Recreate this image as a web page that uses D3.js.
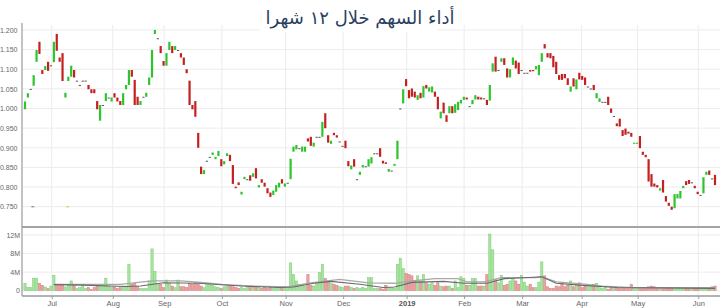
<!DOCTYPE html>
<html>
<head>
<meta charset="utf-8">
<script src="https://cdn.jsdelivr.net/npm/d3@7"></script>
<style>
body{margin:0;background:#fff}
svg{display:block;font-family:"Liberation Sans",Arial,sans-serif}
</style>
</head>
<body>
<div id="chart"></div>
<script>
const titleText = "أداء السهم خلال ١٢ شهرا"

const opens = [
0.998,1.028,1.050,1.058,1.119,1.170,1.098,1.098,1.119,1.110,
1.118,1.190,1.130,1.141,1.028,1.070,1.081,1.098,1.071,1.060,
1.071,1.071,1.060,1.049,1.049,1.019,0.969,1.009,1.019,1.028,
1.018,1.039,1.028,1.019,1.009,1.049,1.060,1.098,1.073,1.030,
1.009,1.030,1.030,1.060,1.079,1.190,1.179,1.159,1.121,1.109,
1.149,1.159,1.149,1.149,1.141,1.130,1.100,1.071,1.009,1.019,
0.938,0.852,0.833,0.867,0.877,0.882,0.871,0.879,0.871,0.858,
0.879,0.882,0.856,0.801,0.812,0.781,0.820,0.820,0.830,0.826,
0.848,0.799,0.820,0.811,0.797,0.786,0.780,0.788,0.799,0.820,
0.801,0.811,0.820,0.890,0.896,0.899,0.890,0.890,0.924,0.928,
0.903,0.928,0.928,0.928,0.988,0.932,0.910,0.938,0.932,0.916,
0.905,0.918,0.866,0.845,0.871,0.820,0.831,0.850,0.853,0.852,
0.860,0.886,0.886,0.899,0.867,0.863,0.839,0.842,0.854,0.871,
1.000,1.013,1.075,1.047,1.051,1.043,1.022,1.040,1.028,1.060,
1.043,1.041,1.043,1.030,0.975,1.015,0.983,0.988,1.006,0.989,
0.996,1.013,1.022,1.028,1.006,1.011,1.023,1.030,1.028,1.026,
1.022,1.020,1.094,1.132,1.098,1.119,1.128,1.102,1.079,1.111,
1.122,1.117,1.098,1.091,1.091,1.098,1.098,1.100,1.085,1.119,
1.164,1.141,1.141,1.134,1.119,1.085,1.088,1.088,1.077,1.043,
1.077,1.049,1.091,1.083,1.079,1.056,1.051,1.060,1.026,1.017,
1.017,1.017,1.030,1.000,0.981,0.962,0.974,0.945,0.949,0.941,
0.938,0.910,0.910,0.930,0.890,0.882,0.871,0.833,0.809,0.805,
0.791,0.818,0.777,0.760,0.750,0.746,0.771,0.771,0.797,0.815,
0.818,0.812,0.803,0.788,0.780,0.784,0.831,0.842,0.822,0.831]

const closes = [
1.018,1.039,1.050,1.085,1.149,1.139,1.088,1.108,1.096,1.110,
1.170,1.147,1.119,1.070,1.040,1.081,1.109,1.079,1.071,1.060,
1.071,1.071,1.049,1.039,1.039,0.998,1.009,1.009,1.039,1.028,
1.028,1.028,1.018,1.009,1.039,1.060,1.098,1.081,1.009,1.009,
1.019,1.030,1.040,1.079,1.149,1.200,1.179,1.141,1.109,1.141,
1.170,1.141,1.159,1.149,1.130,1.111,1.090,1.009,0.998,0.979,
0.900,0.833,0.843,0.867,0.877,0.888,0.877,0.892,0.853,0.866,
0.886,0.866,0.808,0.797,0.805,0.788,0.826,0.820,0.816,0.835,
0.822,0.805,0.811,0.801,0.784,0.775,0.791,0.805,0.811,0.809,
0.809,0.811,0.872,0.903,0.907,0.899,0.903,0.903,0.916,0.905,
0.913,0.928,0.928,0.966,0.950,0.913,0.918,0.932,0.926,0.916,
0.905,0.899,0.853,0.855,0.852,0.820,0.839,0.856,0.853,0.871,
0.876,0.886,0.886,0.877,0.860,0.859,0.846,0.842,0.859,0.918,
1.000,1.049,1.057,1.026,1.030,1.028,1.034,1.026,1.057,1.051,
1.054,1.056,1.030,0.998,0.992,0.988,0.966,1.006,0.988,1.011,
1.017,1.022,1.030,1.023,1.006,1.022,1.034,1.023,1.023,1.026,
1.009,1.060,1.115,1.094,1.098,1.128,1.111,1.079,1.100,1.130,
1.102,1.088,1.098,1.091,1.091,1.094,1.095,1.108,1.111,1.141,
1.153,1.130,1.128,1.105,1.088,1.073,1.073,1.077,1.060,1.056,
1.056,1.074,1.074,1.073,1.060,1.056,1.051,1.047,1.039,1.026,
1.017,1.017,1.009,0.989,0.981,0.955,0.954,0.930,0.933,0.936,
0.928,0.913,0.913,0.899,0.882,0.876,0.814,0.801,0.801,0.799,
0.797,0.786,0.763,0.752,0.742,0.782,0.782,0.790,0.803,0.805,
0.808,0.812,0.797,0.782,0.780,0.825,0.839,0.831,0.822,0.805]

// volume in millions
const volumes = [
1.6,0.65,0.65,2.7,2.7,1.6,1.15,0.8,0.45,1.0,
3.3,1.4,1.4,1.4,0.8,1.15,2.1,1.15,0.45,0.65,
1.15,0.45,0.65,0.3,0.65,1.0,1.0,1.0,2.7,1.0,
0.65,0.8,0.45,0.65,1.0,1.0,5.7,1.4,1.6,1.0,
0.45,0.45,0.45,2.1,9.0,4.2,1.6,1.4,0.65,2.3,
1.6,1.0,0.65,2.3,0.85,0.85,0.65,1.6,1.4,1.7,
1.4,1.0,0.65,1.6,1.6,1.15,0.85,0.65,0.45,0.85,
1.0,1.0,0.85,0.65,0.45,0.65,0.45,0.85,0.65,0.65,
0.85,0.65,0.45,0.65,0.45,0.65,0.45,0.85,0.85,0.65,
0.85,0.65,6.0,3.5,2.1,1.4,1.15,1.0,3.5,1.15,
1.0,1.7,3.9,5.7,2.6,2.1,1.6,1.4,1.15,0.85,
0.65,1.0,1.0,0.65,0.45,0.65,0.45,0.65,0.45,2.8,
2.8,0.45,0.45,0.45,0.3,1.15,0.65,0.65,0.45,5.7,
7.0,4.75,3.7,3.5,3.2,2.1,3.2,2.1,3.5,1.7,
1.4,1.7,1.15,1.7,1.0,0.85,1.0,1.0,0.45,2.1,
0.65,3.0,2.6,1.15,1.15,2.6,2.6,1.0,1.0,1.0,
3.5,12.2,8.8,2.45,1.7,3.3,1.15,1.4,2.1,2.6,
2.1,1.4,3.3,1.85,1.0,1.4,0.65,0.65,1.85,6.2,
3.2,0.85,0.45,0.45,1.0,0.85,1.7,0.85,1.15,2.1,
0.85,1.6,1.7,0.65,1.0,0.85,1.15,1.4,1.6,0.65,
0.45,0.85,0.3,0.65,0.45,0.65,0.45,0.65,0.45,0.45,
1.4,0.45,0.45,0.45,0.65,0.65,0.85,1.0,0.85,0.65,
0.65,0.45,0.45,0.45,0.45,0.45,0.45,0.65,0.45,0.65,
0.45,0.65,0.45,0.45,0.45,0.45,0.45,0.45,0.85,1.0]

// two volume averages, read at a few trading-day positions
const maSlowIdx = [10,33,44,54,63,68,79,91,99,109,119,128,134,142,150,153,159,165,177,179,184,194,200,211,239]
const maSlow = [1.37,1.37,2.1,2.1,1.7,1.37,1.0,0.8,1.7,2.45,1.7,1.6,2.1,2.6,2.6,1.9,1.9,2.8,2.8,3.0,1.9,1.4,1.0,0.65,0.65]
const maFastIdx = [10,20,35,40,48,60,75,88,93,100,106,116,124,128,134,145,152,160,166,176,179,184,192,205,239]
const maFast = [1.3,1.2,0.9,1.0,1.7,1.6,1.0,0.7,0.8,1.6,2.0,1.4,0.7,0.8,1.8,2.0,1.6,1.6,2.6,2.9,3.0,1.6,1.2,0.7,0.5]

// month ticks, as trading-day positions
const tickIdx = [9.25,30.4,48.2,68.2,90.3,110.2,132.2,152.1,172.2,192.8,212.2,233.2]
const tickLabels = ["Jul","Aug","Sep","Oct","Nov","Dec","2019","Feb","Mar","Apr","May","Jun"]
const priceTicks = [0.75,0.8,0.85,0.9,0.95,1.0,1.05,1.1,1.15,1.2]
const volTicks = [0,4,8,12]

// small event markers near the bottom of the price panel
const markerIdx = [2.7,14.8]
const markerVal = [0.75,0.75]

drawChart("#chart")

function drawChart(id){
    const canvas = createCanvas()
    const svg = d3.select(id).append("svg").attr("width",canvas.width).attr("height",canvas.height)
    const sc = addScales(canvas)
    addGrid(svg,sc,canvas)
    addCandles(svg,sc)
    addMarkers(svg,sc)
    addVolume(svg,sc)
    addAverages(svg,sc)
    addAxes(svg,sc,canvas)
    addTitle(svg,canvas)
}

function createCanvas(){
    return {width:720,height:308,left:22,right:720,priceTop:25,priceBottom:226,volTop:228,volBottom:296}
}

function addScales(canvas){
    const x = d3.scaleLinear().domain([0,opens.length-1]).range([25,715])
    const y = d3.scaleLinear().domain([0.7008,1.2127]).range([canvas.priceBottom,canvas.priceTop])
    const yv = d3.scaleLinear().domain([-1.14,13.5]).range([canvas.volBottom,canvas.volTop])
    return {x,y,yv}
}

function addGrid(svg,sc,canvas){
    const g = svg.append("g").attr("stroke","#ececec").attr("stroke-width",1)
    priceTicks.forEach(t => g.append("line").attr("x1",canvas.left).attr("x2",canvas.right)
        .attr("y1",sc.y(t)).attr("y2",sc.y(t)))
    volTicks.forEach(t => g.append("line").attr("x1",canvas.left).attr("x2",canvas.right)
        .attr("y1",sc.yv(t)).attr("y2",sc.yv(t)))
    tickIdx.forEach(t => {
        g.append("line").attr("x1",sc.x(t)).attr("x2",sc.x(t)).attr("y1",canvas.priceTop).attr("y2",canvas.priceBottom)
        g.append("line").attr("x1",sc.x(t)).attr("x2",sc.x(t)).attr("y1",canvas.volTop).attr("y2",canvas.volBottom)
    })
}

function candleColor(i){
    if(closes[i] > opens[i]) return "#2dc52d"
    if(closes[i] < opens[i]) return "#c42020"
    return "#555"
}

function addCandles(svg,sc){
    const w = 2.2
    svg.append("g").selectAll("rect").data(opens).enter().append("rect")
     .attr("x",(d,i) => sc.x(i) - w/2)
     .attr("y",(d,i) => sc.y(Math.max(d,closes[i])))
     .attr("width",w)
     .attr("height",(d,i) => Math.max(1,Math.abs(sc.y(d) - sc.y(closes[i]))))
     .attr("fill",(d,i) => candleColor(i))
}

function addMarkers(svg,sc){
    svg.append("g").selectAll("rect").data(markerIdx).enter().append("rect")
     .attr("x",d => sc.x(d) - 1.5).attr("y",(d,i) => sc.y(markerVal[i]) - 0.7)
     .attr("width",3).attr("height",1.4)
     .attr("fill",(d,i) => i === 0 ? "#999" : "#e8d25a")
}

function addVolume(svg,sc){
    const w = 2.3
    svg.append("g").selectAll("rect").data(volumes).enter().append("rect")
     .attr("x",(d,i) => sc.x(i) - w/2)
     .attr("y",d => sc.yv(d))
     .attr("width",w)
     .attr("height",d => sc.yv(0) - sc.yv(d))
     .attr("fill",(d,i) => closes[i] < opens[i] ? "#eaa4a4" : "#a9e4a2")
     .attr("stroke",(d,i) => closes[i] < opens[i] ? "#d27878" : "#78cc70")
     .attr("stroke-width",0.5)
}

function addAverages(svg,sc){
    const line = d3.line().x(d => sc.x(d[0])).y(d => sc.yv(d[1]))
    svg.append("path").datum(maSlowIdx.map((d,i) => [d,maSlow[i]]))
     .attr("fill","none").attr("stroke","#a8a8a8").attr("stroke-width",1.3).attr("d",line)
    svg.append("path").datum(maFastIdx.map((d,i) => [d,maFast[i]]))
     .attr("fill","none").attr("stroke","#6a6a6a").attr("stroke-width",1.1).attr("d",line)
}

function addAxes(svg,sc,canvas){
    const axisColor = "#9a9a9a"
    svg.append("line").attr("x1",canvas.left).attr("x2",canvas.right).attr("y1",227).attr("y2",227)
     .attr("stroke","#a5a5a5").attr("stroke-width",2)
    svg.append("line").attr("x1",canvas.left).attr("x2",canvas.left).attr("y1",23).attr("y2",canvas.volBottom)
     .attr("stroke",axisColor).attr("stroke-width",1.2)

    const yAxis = svg.append("g").attr("transform",`translate(${canvas.left},0)`)
     .call(d3.axisLeft(sc.y).tickValues(priceTicks).tickFormat(d3.format(".3f")).tickSize(0).tickPadding(4.5))
    const vAxis = svg.append("g").attr("transform",`translate(${canvas.left},0)`)
     .call(d3.axisLeft(sc.yv).tickValues(volTicks).tickFormat(d => d === 0 ? "0" : d + "M").tickSize(0).tickPadding(2))
    const xAxis = svg.append("g").attr("transform",`translate(0,${canvas.volBottom})`)
     .call(d3.axisBottom(sc.x).tickValues(tickIdx).tickFormat((d,i) => tickLabels[i]).tickSize(3).tickPadding(1.5))

    ;[yAxis,vAxis,xAxis].forEach(a => {
        a.select(".domain").remove()
        a.selectAll("text").attr("fill","#666").attr("font-size","7px")
        a.selectAll("line").attr("stroke",axisColor)
    })
    xAxis.selectAll("text").attr("font-size","7.5px")
    xAxis.selectAll("text").filter((d,i) => tickLabels[i] === "2019").attr("font-weight","bold").attr("fill","#555")
    svg.append("line").attr("x1",canvas.left).attr("x2",canvas.right)
     .attr("y1",canvas.volBottom).attr("y2",canvas.volBottom).attr("stroke",axisColor).attr("stroke-width",1.5)
}

function addTitle(svg,canvas){
    svg.append("rect").attr("x",260).attr("y",0).attr("width",178).attr("height",32).attr("fill","#fff")
    svg.append("text").attr("x",canvas.width/2).attr("y",24)
     .attr("text-anchor","middle").attr("font-size","18px").attr("fill","#2a3f5f")
     .attr("font-family","'DejaVu Serif','DejaVu Sans',serif")
     .text(titleText)
}
</script>
</body>
</html>
